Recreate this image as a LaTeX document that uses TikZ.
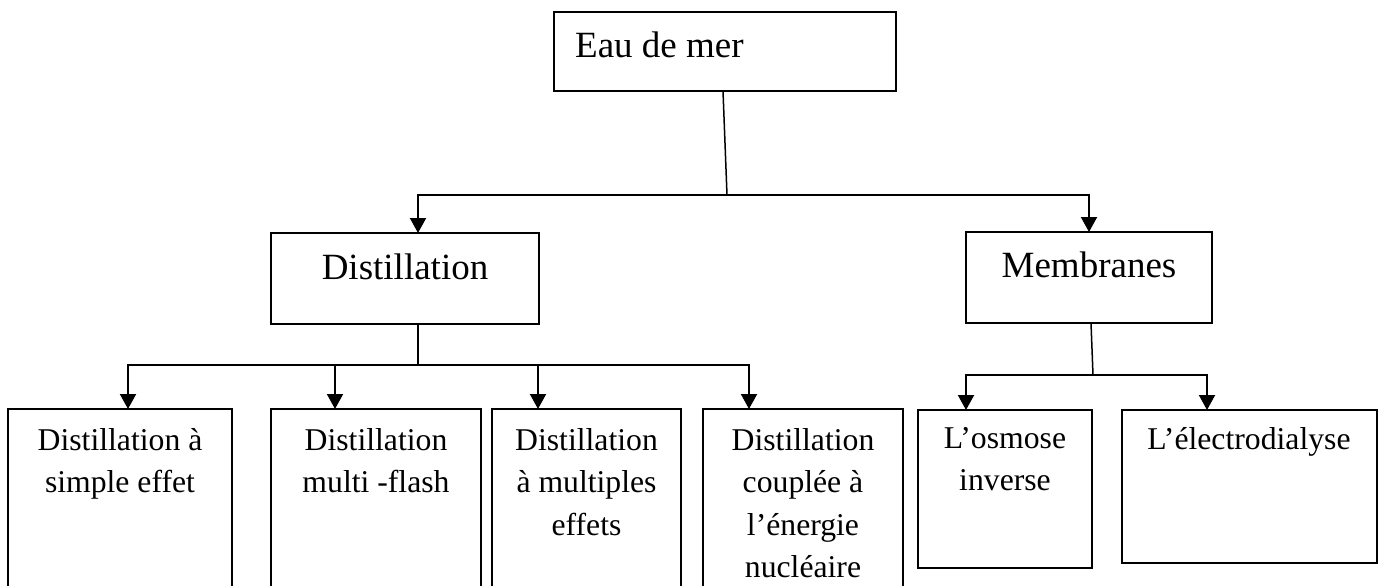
\documentclass[tikz,border=0pt]{standalone}
\usepackage{fontspec}
\setmainfont{Liberation Serif}
\usetikzlibrary{arrows.meta,calc}
\begin{document}
\begin{tikzpicture}[x=1pt,y=-1pt,
  boxnode/.style={draw, rectangle, line width=2.4pt, inner sep=0pt, outer sep=0pt, anchor=north west},
  bigtxt/.style={font=\fontsize{37}{42}\selectfont, inner sep=0pt, anchor=north},
  smalltxt/.style={font=\fontsize{31.7}{42.5}\selectfont, inner sep=0pt, anchor=north, align=center},
  conn/.style={line width=2pt},
  thinconn/.style={line width=1.5pt},
  arr/.style={conn, -{Triangle[length=15pt,width=16pt]}}]
\clip (0,0) rectangle (1382,586);
\fill[white] (0,0) rectangle (1382,586);

% boxes
\node[boxnode, minimum width=342pt, minimum height=79pt] (eau) at (554,12) {};
\node[boxnode, minimum width=268pt, minimum height=91pt] (dist) at (271,233) {};
\node[boxnode, minimum width=246pt, minimum height=91pt] (memb) at (966,232) {};
\node[boxnode, minimum width=224pt, minimum height=211pt] (d1) at (8,409) {};
\node[boxnode, minimum width=210pt, minimum height=211pt] (d2) at (271,409) {};
\node[boxnode, minimum width=189pt, minimum height=211pt] (d3) at (492,409) {};
\node[boxnode, minimum width=200pt, minimum height=211pt] (d4) at (703,409) {};
\node[boxnode, minimum width=174pt, minimum height=158pt] (osm) at (918,410) {};
\node[boxnode, minimum width=255pt, minimum height=153pt] (ele) at (1122,410) {};

% texts
\node[bigtxt, anchor=north west] (teau) at (575,32) {Eau de mer};
\node[bigtxt] (tdist) at (405,254) {Distillation};
\node[bigtxt] (tmemb) at (1089,252) {Membranes};
\node[smalltxt] (td1) at (120,428) {Distillation à\\simple effet};
\node[smalltxt] (td2) at (376,428) {Distillation\\multi -flash};
\node[smalltxt] (td3) at (586.5,428) {Distillation\\à multiples\\effets};
\node[smalltxt] (td4) at (803,428) {Distillation\\couplée à\\l’énergie\\nucléaire};
\node[smalltxt] (tosm) at (1005,427) {L’osmose\\inverse};
\node[smalltxt] (tele) at (1249,427) {L’électrodialyse};

% connectors
\coordinate (j1) at (727,195);
\draw[thinconn] ($(eau.south)+(-2,0)$) -- (j1);
\draw[arr] (j1) -| ($(dist.north west)+(147,0)$);
\draw[arr] (j1) -| ($(memb.north west)+(123,0)$);

\coordinate (j2) at (418,365);
\draw[conn] ($(dist.south west)+(147,0)$) -- (j2);
\draw[arr] (j2) -| ($(d1.north west)+(120,0)$);
\draw[arr] (j2) -| ($(d2.north west)+(64,0)$);
\draw[arr] (j2) -| ($(d3.north west)+(46,0)$);
\draw[arr] (j2) -| ($(d4.north west)+(46,0)$);

\coordinate (j3) at (1093,375);
\draw[thinconn] ($(memb.south west)+(125,0)$) -- (j3);
\draw[arr] (j3) -| ($(osm.north west)+(48,0)$);
\draw[arr] (j3) -| ($(ele.north west)+(85,0)$);
\end{tikzpicture}
\end{document}
